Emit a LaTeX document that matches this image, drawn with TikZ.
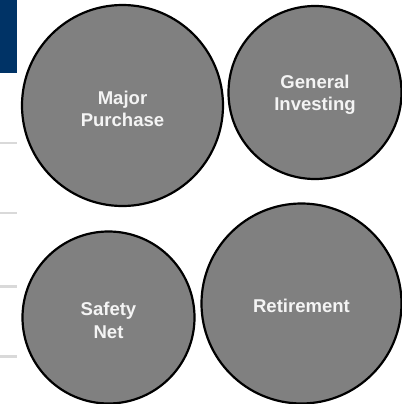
\documentclass[tikz,border=0pt]{standalone}
\usepackage{fontspec}
\setmainfont{Liberation Sans}
\definecolor{navy}{HTML}{003366}
\definecolor{fillgray}{HTML}{808080}
\definecolor{rulegray}{HTML}{D9D9D9}
\definecolor{txt}{HTML}{F4F4F4}
\tikzset{
  goal/.style={circle, draw=black, line width=2.2bp, fill=fillgray, inner sep=0pt},
  goaltext/.style={text=txt, align=center, font=\bfseries\fontsize{18.6}{22.5}\selectfont},
  sidebar/.style={fill=navy, draw=none},
  siderule/.style={draw=rulegray, line width=2.2bp}
}
\begin{document}
\begin{tikzpicture}[x=1bp,y=-1bp]
\useasboundingbox (0,0) rectangle (402,404);
\fill[sidebar] (0,0) rectangle (16.5,73);
\coordinate (r1a) at (0,143); \coordinate (r1b) at (16.5,143);
\coordinate (r2a) at (0,213); \coordinate (r2b) at (16.5,213);
\coordinate (r3a) at (0,286.5); \coordinate (r3b) at (16.5,286.5);
\coordinate (r4a) at (0,356.5); \coordinate (r4b) at (16.5,356.5);
\draw[siderule] (r1a) -- (r1b);
\draw[siderule] (r2a) -- (r2b);
\draw[siderule] (r3a) -- (r3b);
\draw[siderule] (r4a) -- (r4b);
\node[goal, minimum size=201bp] (major) at (122.5,105.5) {};
\node[goaltext] (majort) at (122.5,109) {Major\\Purchase};
\node[goal, minimum size=173bp] (general) at (315,92.5) {};
\node[goaltext] (generalt) at (315,95) {General\\Investing};
\node[goal, minimum size=172bp] (safety) at (108.5,317.5) {};
\node[goaltext] (safetyt) at (108.5,320.5) {Safety\\Net};
\node[goal, minimum size=200bp] (retire) at (301.5,303.5) {};
\node[goaltext] (retiret) at (301.5,306) {Retirement};
\end{tikzpicture}
\end{document}
